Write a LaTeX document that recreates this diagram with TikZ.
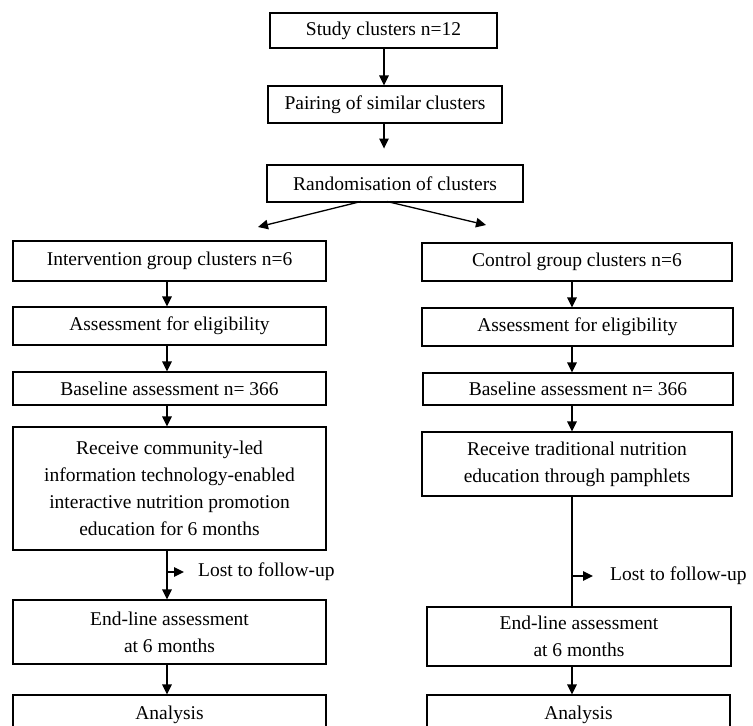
\documentclass[tikz,border=0pt]{standalone}
\usepackage{fontspec}
\setmainfont{Liberation Serif}
\usetikzlibrary{arrows.meta}
\begin{document}
\begin{tikzpicture}[x=1pt,y=-1pt,
  box/.style={draw, line width=1.1pt, inner sep=0pt, align=center, font=\fontsize{19.5}{27}\selectfont},
  arr/.style={line width=1.3pt, -{Triangle[length=10pt,width=9.5pt]}},
  ln/.style={line width=1.3pt},
  lbl/.style={anchor=west, inner sep=0pt, font=\fontsize{19.5}{24}\selectfont}]
\useasboundingbox (0,0) rectangle (753,726);
\clip (0,0) rectangle (753,726);
% top
\node[box, minimum width=227pt, minimum height=35pt] (study) at (383.5,30.5) {Study clusters n=12};
\node[box, minimum width=234pt, minimum height=37pt] (pair) at (385,104.5) {Pairing of similar clusters};
\node[box, minimum width=256pt, minimum height=37pt] (rand) at (395,183.5) {Randomisation of clusters};
% left column
\node[box, minimum width=313pt, minimum height=40pt] (int) at (169.5,261) {Intervention group clusters n=6};
\node[box, minimum width=313pt, minimum height=38pt] (aL) at (169.5,326) {Assessment for eligibility};
\node[box, minimum width=313pt, minimum height=33pt] (bL) at (169.5,388.5) {Baseline assessment n= 366};
\node[box, minimum width=313pt, minimum height=123pt] (rL) at (169.5,488.5) {Receive community-led\\information technology-enabled\\interactive nutrition promotion\\education for 6 months};
\node[box, minimum width=313pt, minimum height=64pt] (eL) at (169.5,632) {End-line assessment\\at 6 months};
\node[box, minimum width=313pt, minimum height=64pt, text depth=30pt, text height=14pt] (anL) at (169.5,727) {Analysis};
% right column
\node[box, minimum width=310pt, minimum height=38pt] (ctrl) at (577,262) {Control group clusters n=6};
\node[box, minimum width=311pt, minimum height=38pt] (aR) at (577.5,327) {Assessment for eligibility};
\node[box, minimum width=310pt, minimum height=32pt] (bR) at (578,389) {Baseline assessment n= 366};
\node[box, minimum width=310pt, minimum height=64pt] (rR) at (577,464) {Receive traditional nutrition\\education through pamphlets};
\node[box, minimum width=304pt, minimum height=59pt] (eR) at (579,636.5) {End-line assessment\\at 6 months};
\node[box, minimum width=303pt, minimum height=64pt, text depth=30pt, text height=14pt] (anR) at (578.5,727) {Analysis};
% connectors top
\draw[arr] (study.south -| 384,0) -- (pair.north -| 384,0);
\draw[arr] (pair.south -| 384,0) -- ++(0,25);
\coordinate (rl0) at (361,201.5);
\coordinate (rl1) at (258,227);
\coordinate (rr0) at (387,201.5);
\coordinate (rr1) at (486,225);
\draw[arr] (rl0) -- (rl1);
\draw[arr] (rr0) -- (rr1);
% left connectors
\draw[arr] (int.south -| 167,0) -- (aL.north -| 167,0);
\draw[arr] (aL.south -| 167,0) -- (bL.north -| 167,0);
\draw[arr] (bL.south -| 167,0) -- (rL.north -| 167,0);
\draw[arr] (rL.south -| 167,0) -- (eL.north -| 167,0);
\coordinate (lbL) at (167,572);
\draw[arr] (lbL) -- ++(17,0);
\node[lbl] (lostL) at (198,572) {Lost to follow-up};
\draw[arr] (eL.south -| 167,0) -- (anL.north -| 167,0);
% right connectors
\draw[arr] (ctrl.south -| 572,0) -- (aR.north -| 572,0);
\draw[arr] (aR.south -| 572,0) -- (bR.north -| 572,0);
\draw[arr] (bR.south -| 572,0) -- (rR.north -| 572,0);
\draw[ln] (rR.south -| 572,0) -- (eR.north -| 572,0);
\coordinate (lbR) at (572,576);
\draw[arr] (lbR) -- ++(21,0);
\node[lbl] (lostR) at (610,576) {Lost to follow-up};
\draw[arr] (eR.south -| 572,0) -- (anR.north -| 572,0);
\end{tikzpicture}
\end{document}
